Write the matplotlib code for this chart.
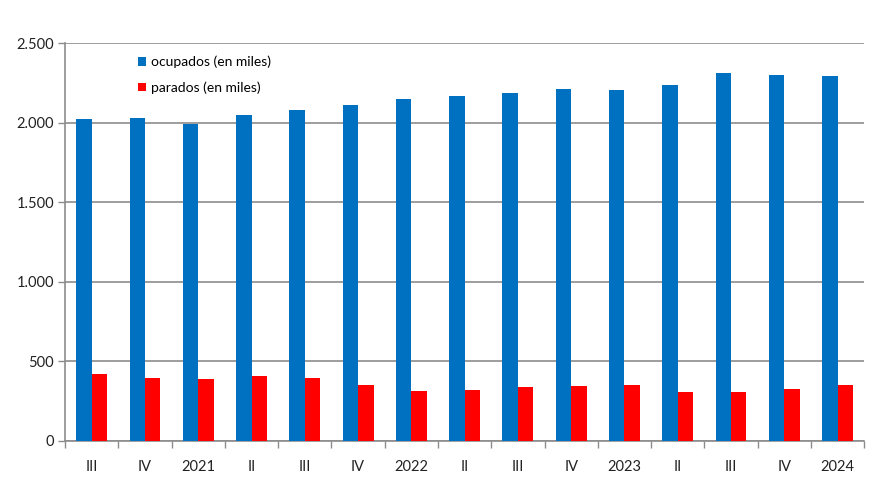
import matplotlib.pyplot as plt
import numpy as np
from matplotlib.ticker import FuncFormatter

# Data (en miles)
categories = ['III', 'IV', '2021', 'II', 'III', 'IV', '2022', 'II', 'III',
              'IV', '2023', 'II', 'III', 'IV', '2024']
ocupados = [2023, 2028, 1988, 2047, 2078, 2109, 2149, 2164, 2187,
            2212, 2204, 2235, 2314, 2298, 2292]
parados = [420, 392, 386, 405, 396, 352, 311, 317, 338,
           342, 348, 306, 306, 327, 352]

BLUE = '#0070C0'
RED = '#FF0000'
GRID = '#8c8c8c'

plt.rcParams['font.family'] = ['Lato', 'DejaVu Sans']

fig = plt.figure(figsize=(8.8, 4.95), dpi=100)
ax = fig.add_axes([0.074, 0.11, 0.908, 0.803])

x = np.arange(len(categories))
w = 0.29
ax.bar(x - w / 2, ocupados, w, color=BLUE, label='ocupados (en miles)', zorder=3)
ax.bar(x + w / 2, parados, w, color=RED, label='parados (en miles)', zorder=3)

ax.set_xlim(-0.5, len(categories) - 0.5)
ax.set_ylim(0, 2500)
ax.set_yticks(range(0, 2501, 500))
ax.yaxis.set_major_formatter(FuncFormatter(lambda v, p: f'{int(v):,}'.replace(',', '.')))
ax.grid(axis='y', color=GRID, linewidth=1.2, zorder=0)

# category labels centred, tick marks at boundaries
ax.set_xticks(x)
ax.set_xticklabels(categories)
ax.set_xticks(np.arange(-0.5, len(categories), 1), minor=True)
ax.tick_params(axis='x', which='major', length=0, pad=14, labelsize=10.5, colors='#222222')
ax.tick_params(axis='x', which='minor', length=5, width=1, color=GRID)
ax.tick_params(axis='y', length=5, width=1, color=GRID, labelsize=10.5,
               labelcolor='#222222', pad=3)

for s in ['top', 'right']:
    ax.spines[s].set_visible(False)
for s in ['left', 'bottom']:
    ax.spines[s].set_color(GRID)
    ax.spines[s].set_linewidth(1.2)

ax.legend(loc='upper left', bbox_to_anchor=(0.075, 1.0), frameon=False,
          handlelength=0.6, handleheight=0.6, handletextpad=0.4,
          labelspacing=0.95, fontsize=10)

plt.savefig('out.png', dpi=100)
plt.close()
